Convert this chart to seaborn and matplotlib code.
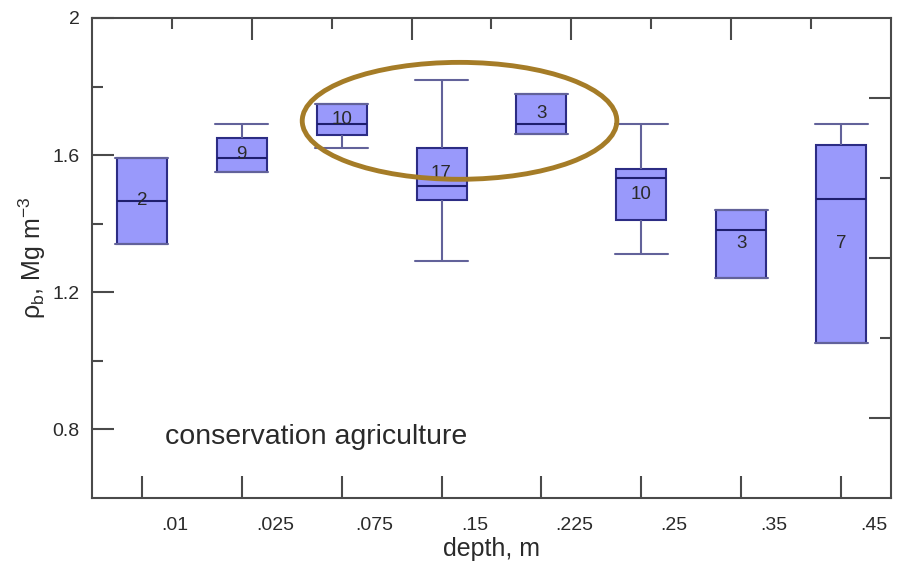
import numpy as np
import pandas as pd
import matplotlib
matplotlib.use("Agg")
import matplotlib.pyplot as plt
from matplotlib.patches import Ellipse
from matplotlib.ticker import FixedLocator, NullFormatter
import seaborn as sns

# Bulk density summary per sampling depth (Mg m-3)
depths = [".01", ".025", ".075", ".15", ".225", ".25", ".35", ".45"]
whisker_low = [1.341, 1.551, 1.621, 1.291, 1.662, 1.312, 1.242, 1.052]
q1 = [1.341, 1.551, 1.659, 1.469, 1.662, 1.411, 1.242, 1.052]
median = [1.466, 1.592, 1.691, 1.510, 1.691, 1.533, 1.382, 1.472]
q3 = [1.592, 1.650, 1.749, 1.621, 1.778, 1.559, 1.440, 1.630]
whisker_high = [1.592, 1.691, 1.749, 1.819, 1.778, 1.691, 1.440, 1.691]
counts = [2, 9, 10, 17, 3, 10, 3, 7]

# five-number summaries as rows; min/max whiskers reproduce them exactly
rows = []
for d, lo, a, m, b, hi in zip(depths, whisker_low, q1, median, q3, whisker_high):
    for v in (lo, a, m, b, hi):
        rows.append({"depth": d, "rho": v})
df = pd.DataFrame(rows)

sns.set_style("white")
plt.rcParams["font.family"] = ["Liberation Sans", "DejaVu Sans"]
plt.rcParams["mathtext.fontset"] = "custom"
plt.rcParams["mathtext.rm"] = "Liberation Sans"
plt.rcParams["mathtext.it"] = "Liberation Sans:italic"
plt.rcParams["mathtext.default"] = "regular"

fig = plt.figure(figsize=(9, 5.67), dpi=100)
ax = fig.add_axes([0.1022, 0.1217, 0.8878, 0.8466])

spine_c = "#4a4a4a"
text_c = "#2a2a2a"
edge_c = "#2c2c84"
whisk_c = "#62629a"

sns.boxplot(
    data=df, x="depth", y="rho", order=depths, ax=ax,
    whis=(0, 100), width=0.5, color="#9999fb", saturation=1,
    linecolor=edge_c, linewidth=1.5, showfliers=False,
    whiskerprops={"color": whisk_c, "linewidth": 1.5},
    capprops={"color": whisk_c, "linewidth": 1.5},
    medianprops={"color": "#1e1e6e", "linewidth": 1.5},
    capwidths=0.53,
)

# sample counts centred in each box
for i, (a, b, n) in enumerate(zip(q1, q3, counts)):
    ax.text(i, (a + b) / 2, str(n), ha="center", va="center",
            fontsize=13.5, color=text_c, zorder=5)

ax.set_xlim(-0.5, 7.5)
ax.set_ylim(0.6, 2.0)

for s in ax.spines.values():
    s.set_visible(True)
    s.set_color(spine_c)
    s.set_linewidth(1.5)

# bottom ticks at box positions, labels shifted to the right
ax.set_xticks(range(len(depths)), labels=[""] * len(depths))
ax.set_xticks(np.arange(len(depths)) + 0.33, labels=depths, minor=True)
ax.tick_params(axis="x", which="major", direction="in", length=16, width=1.5,
               color=spine_c, bottom=True, top=False)
ax.tick_params(axis="x", which="minor", length=0, pad=14, labelsize=14,
               labelcolor=text_c)

ax.set_yticks([0.8, 1.2, 1.6, 2.0], labels=["0.8", "1.2", "1.6", "2"])
ax.set_yticks([1.0, 1.4, 1.8], minor=True)
ax.tick_params(axis="y", which="major", direction="in", length=16, width=1.5,
               color=spine_c, pad=9, labelsize=14, labelcolor=text_c,
               left=True, right=False)
ax.tick_params(axis="y", which="minor", direction="in", length=8, width=1.5,
               color=spine_c, left=True, right=False)

ax.set_xlabel("depth, m", fontsize=18, color=text_c, labelpad=2)
ax.set_ylabel(r"$\rho_b$, Mg m$^{-3}$", fontsize=18, color=text_c, labelpad=3)

ax.text(0.23, 0.778, "conservation agriculture", fontsize=20.5,
        color=text_c, ha="left", va="center")

ax.add_patch(Ellipse((3.18, 1.70), width=3.15, height=0.341, fill=False,
                     ec="#a57c27", lw=3.5, zorder=6, clip_on=False))

# independent tick marks along the top and right frame
ov = fig.add_axes(ax.get_position(), frameon=False)
ov.set_xlim(0, 1)
ov.set_ylim(0, 1)
ov.patch.set_alpha(0)
ov.xaxis.set_major_locator(FixedLocator([0.2, 0.4, 0.6, 0.8]))
ov.xaxis.set_minor_locator(FixedLocator([0.1, 0.3, 0.5, 0.7, 0.9]))
ov.yaxis.set_major_locator(FixedLocator([1 / 6, 3 / 6, 5 / 6]))
ov.yaxis.set_minor_locator(FixedLocator([2 / 6, 4 / 6]))
ov.xaxis.set_major_formatter(NullFormatter())
ov.yaxis.set_major_formatter(NullFormatter())
ov.tick_params(axis="x", which="major", direction="in", length=16, width=1.5,
               color=spine_c, top=True, bottom=False, labeltop=False,
               labelbottom=False)
ov.tick_params(axis="x", which="minor", direction="in", length=8, width=1.5,
               color=spine_c, top=True, bottom=False)
ov.tick_params(axis="y", which="major", direction="in", length=16, width=1.5,
               color=spine_c, right=True, left=False, labelleft=False,
               labelright=False)
ov.tick_params(axis="y", which="minor", direction="in", length=8, width=1.5,
               color=spine_c, right=True, left=False)

fig.savefig("out.png", dpi=100)
